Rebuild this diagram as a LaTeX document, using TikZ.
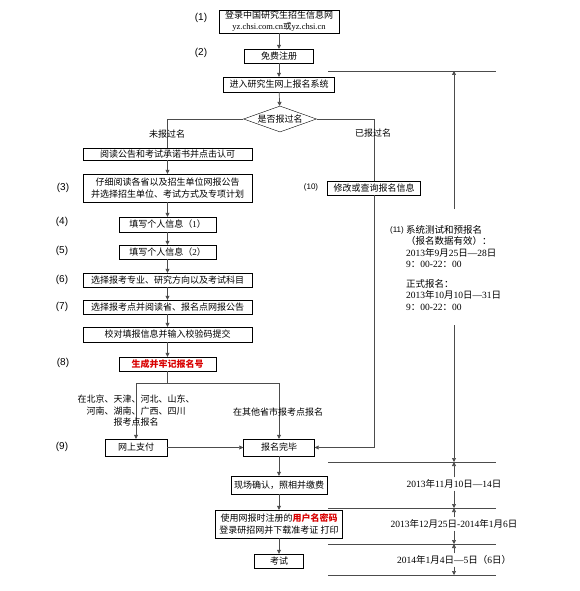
\documentclass[tikz,border=0pt]{standalone}
\usepackage{fontspec}
\setmainfont{Liberation Serif}
\newfontfamily\numfont{Liberation Sans}
\newfontfamily\cjk{Noto Sans CJK SC}
\usetikzlibrary{shapes.geometric, arrows.meta}

% Chinese characters are set in the CJK font
\XeTeXinterchartokenstate=1
\newXeTeXintercharclass\cjkclass
\count255="3000
\loop\ifnum\count255<"A000
  \XeTeXcharclass\count255=\cjkclass
  \advance\count255 by 1
\repeat
\count255="FF00
\loop\ifnum\count255<"FFF0
  \XeTeXcharclass\count255=\cjkclass
  \advance\count255 by 1
\repeat
\XeTeXcharclass"2014=0
\XeTeXinterchartoks 0 \cjkclass = {\begingroup\cjk}
\XeTeXinterchartoks 4095 \cjkclass = {\begingroup\cjk}
\XeTeXinterchartoks \cjkclass 0 = {\endgroup}
\XeTeXinterchartoks \cjkclass 4095 = {\endgroup}

\begin{document}
\begin{tikzpicture}[x=1pt, y=-1pt,
  font=\fontsize{9}{12}\selectfont,
  box/.style={draw, fill=white, inner sep=0pt, align=center, minimum height=14pt},
  widebox/.style={box, minimum width=169pt},
  smallbox/.style={box, minimum width=97pt},
  line/.style={draw=black!70, line width=0.7pt},
  arr/.style={line, -{Triangle[length=4pt, width=4pt]}},
  num/.style={font=\numfont\fontsize{10}{12}\selectfont},
  smallnum/.style={inner sep=0pt, font=\numfont\fontsize{8}{10}\selectfont},
  date/.style={inner sep=2pt, font=\fontsize{9.5}{12}\selectfont}]
  \useasboundingbox (0,0) rectangle (580,591);

  % Top
  \node[box, minimum width=120pt, minimum height=23pt] (login) at (279,21.5) {登录中国研究生招生信息网\\[-1pt]{\fontsize{8.5}{10}\selectfont yz.chsi.com.cn或yz.chsi.cn}};
  \node[box, minimum width=69pt] (reg) at (279,56) {免费注册};
  \node[box, minimum width=111pt, minimum height=15pt] (sys) at (279,84.5) {进入研究生网上报名系统};
  \node[draw, diamond, aspect=2.8, fill=white, inner sep=0pt, minimum width=73pt, minimum height=26pt] (ask) at (280,119) {是否报过名};

  % Left column
  \node[widebox, minimum height=12pt] (read) at (167.5,154) {阅读公告和考试承诺书并点击认可};
  \node[widebox, minimum height=28pt] (notice) at (167.5,188) {仔细阅读各省以及招生单位网报公告\\并选择招生单位、考试方式及专项计划};
  \node[smallbox, minimum height=15pt] (info1) at (167.5,224.5) {填写个人信息（1）};
  \node[smallbox] (info2) at (167.5,252) {填写个人信息（2）};
  \node[widebox] (major) at (167.5,280) {选择报考专业、研究方向以及考试科目};
  \node[widebox] (site) at (167.5,307) {选择报考点并阅读省、报名点网报公告};
  \node[widebox, minimum height=15pt] (check) at (167.5,334.5) {校对填报信息并输入校验码提交};
  \node[smallbox, text=red!85!black, font=\fontsize{9}{12}\selectfont\bfseries] (regno) at (167.5,364) {生成并牢记报名号};

  % Right column
  \node[box, minimum width=93pt] (modify) at (374,188) {修改或查询报名信息};

  % Bottom
  \node[box, minimum width=62pt, minimum height=17pt] (pay) at (136,447.5) {网上支付};
  \node[box, minimum width=71pt, minimum height=17pt] (done) at (279,447.5) {报名完毕};
  \node[box, minimum width=96pt, minimum height=18pt] (confirm) at (279,485) {现场确认，照相并缴费};
  \node[box, minimum width=127pt, minimum height=28pt] (ticket) at (279,524) {使用网报时注册的\textcolor{red!85!black}{\bfseries 用户名密码}\\登录研招网并下载准考证 打印};
  \node[box, minimum width=49pt] (exam) at (279,561) {考试};

  % Step numbers
  \foreach \n/\x/\y in {1/201/18, 2/201/53, 3/63/188, 4/62/222, 5/62/251, 6/62/280, 7/62/307, 8/63/363, 9/62/447}
    \node[num] (n\n) at (\x,\y) {(\n)};
  \node[smallnum] (n10) at (311,187) {(10)};
  \node[smallnum] (n11) at (397,230) {(11)};

  % Flow
  \draw[arr] (login) -- (reg);
  \draw[arr] (reg) -- (sys);
  \draw[arr] (sys) -- (ask);
  \draw[line] (ask.west) -| (read);
  \draw[line] (ask.east) -| (modify);
  \draw[arr] (modify) |- (done);
  \foreach \a/\b in {read/notice, notice/info1, info1/info2, info2/major, major/site, site/check, check/regno}
    \draw[arr] (\a) -- (\b);
  \coordinate (fork) at (167.5,383);
  \draw[line] (regno) -- (fork);
  \draw[arr] (fork) -| (pay);
  \draw[arr] (fork) -| (done);
  \draw[arr] (pay) -- (done);
  \draw[arr] (done) -- (confirm);
  \draw[arr] (confirm) -- (ticket);
  \draw[arr] (ticket) -- (exam);

  % Branch labels
  \node (notyet) at (167,134) {未报过名};
  \node (already) at (373,133) {已报过名};
  \node[align=center, font=\fontsize{9}{11.5}\selectfont] (north) at (136,411) {在北京、天津、河北、山东、\\河南、湖南、广西、四川\\报考点报名};
  \node (other) at (278,412) {在其他省市报考点报名};

  % Time line
  \foreach \n/\y in {1/71, 2/462, 3/508, 4/544, 5/575} {
    \draw[line] (328,\y) -- (496,\y);
    \coordinate (tl\n) at (454,\y);
  }
  \node[align=left, anchor=north west, inner sep=0pt, font=\fontsize{9.5}{11.5}\selectfont] (period) at (406,225) {系统测试和预报名\\（报名数据有效）：\\2013年9月25日—28日\\9：00-22：00\\[8pt]正式报名：\\2013年10月10日—31日\\9：00-22：00};
  \coordinate (up1) at (454,209);
  \coordinate (down1) at (454,325);
  \draw[arr] (up1) -- (tl1);
  \draw[arr] (down1) -- (tl2);
  \node[date] (d2) at (454,484) {2013年11月10日—14日};
  \node[date] (d3) at (454,524) {2013年12月25日-2014年1月6日};
  \node[date] (d4) at (454,560) {2014年1月4日—5日（6日）};
  \draw[arr] (d2) -- (tl2);
  \draw[arr] (d2) -- (tl3);
  \draw[arr] (d3) -- (tl3);
  \draw[arr] (d3) -- (tl4);
  \draw[arr] (d4) -- (tl4);
  \draw[arr] (d4) -- (tl5);
\end{tikzpicture}
\end{document}
